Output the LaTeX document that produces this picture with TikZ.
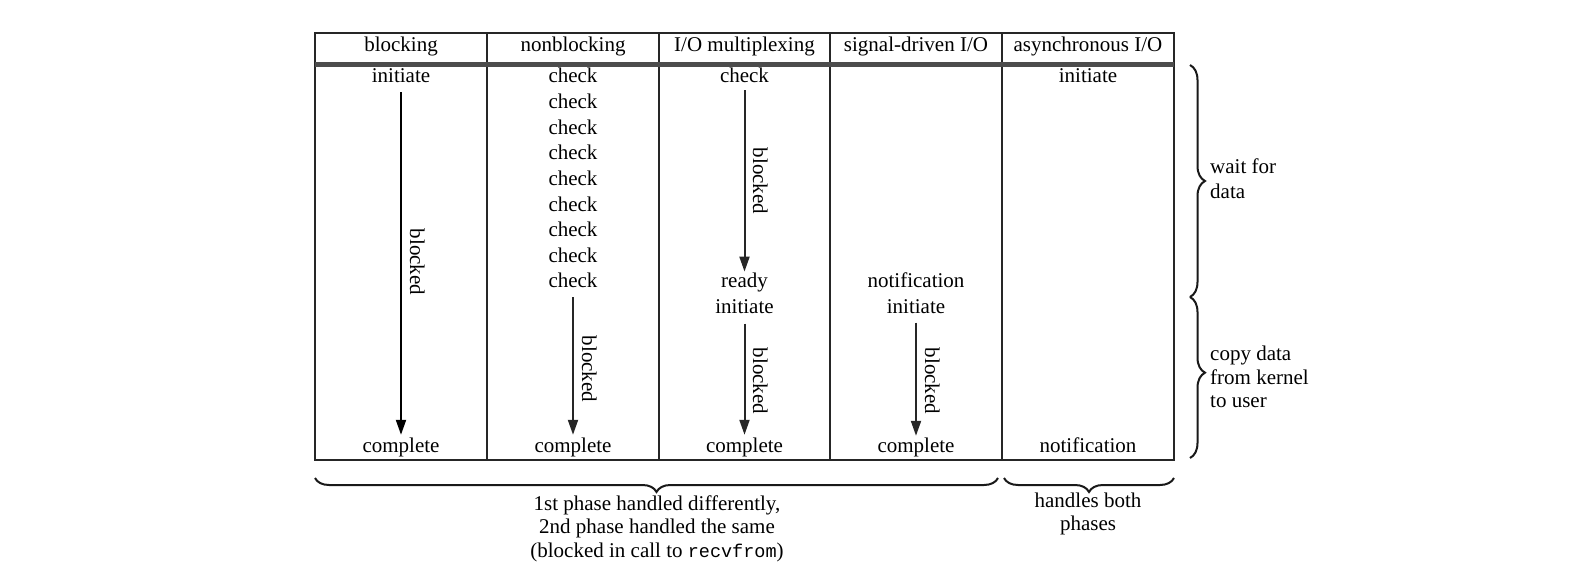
\documentclass[tikz,border=0pt]{standalone}
\usepackage{fontspec}
\setmainfont{Liberation Serif}
\setmonofont{Liberation Mono}
\usetikzlibrary{arrows.meta,decorations.pathreplacing}
\newcommand{\codefont}[1]{{\fontsize{18.5}{25}\selectfont\texttt{#1}}}
\begin{document}
\begin{tikzpicture}[x=1pt,y=-1pt,
  txt/.style={anchor=base,inner sep=0pt,text height=15pt,text depth=5pt,font=\fontsize{21}{25}\selectfont},
  lefttxt/.style={txt,anchor=base west},
  blk/.style={txt,anchor=center,rotate=-90},
  arr/.style={draw=black!85,line width=2pt,-{Triangle[length=15pt,width=10pt]}},
  tbl/.style={draw=black!85,line width=2.4pt},
  hrule/.style={draw=black!70,line width=4.5pt},
  brc/.style={draw=black!90,line width=2pt,decorate,decoration={brace,amplitude=15pt}},
  brcm/.style={draw=black!90,line width=2pt,decorate,decoration={brace,mirror,amplitude=14pt}}]
\useasboundingbox (0,0) rectangle (1588,586);
% table
\draw[tbl] (315,33) rectangle (1174,460);
\foreach \x in {487,659,830,1002} \draw[tbl] (\x,33) -- (\x,460);
\draw[hrule] (315,64.5) -- (1174,64.5);
% headers
\node[txt] (h1) at (401,52) {blocking};
\node[txt] (h2) at (573,52) {nonblocking};
\node[txt] (h3) at (744.5,52) {I/O multiplexing};
\node[txt] (h4) at (916,52) {signal-driven I/O};
\node[txt] (h5) at (1088,52) {asynchronous I/O};
% blocking
\node[txt] (binit) at (401,83) {initiate};
\node[txt] (bcomp) at (401,452) {complete};
\draw[arr,draw=black,shorten <=4pt,shorten >=2pt] (binit.south) -- (bcomp.north);
\node[blk] (bblk) at (415,262) {blocked};
% nonblocking
\foreach \k in {0,...,8} \node[txt] (n\k) at (573,{83+25.6*\k}) {check};
\node[txt] (ncomp) at (573,452) {complete};
\draw[arr,shorten <=4pt,shorten >=2pt] (n8.south) -- (ncomp.north);
\node[blk] (nblk) at (587,369) {blocked};
% I/O multiplexing
\node[txt] (mcheck) at (744.5,83) {check};
\node[txt] (mready) at (744.5,287.8) {ready};
\node[txt] (minit) at (744.5,313.4) {initiate};
\node[txt] (mcomp) at (744.5,452) {complete};
\draw[arr,shorten <=2pt,shorten >=1pt] (mcheck.south) -- (mready.north);
\draw[arr,shorten <=5pt,shorten >=2pt] (minit.south) -- (mcomp.north);
\node[blk] (mblk1) at (758,181) {blocked};
\node[blk] (mblk2) at (758,381) {blocked};
% signal-driven
\node[txt] (snot) at (916,287.8) {notification};
\node[txt] (sinit) at (916,313.4) {initiate};
\node[txt] (scomp) at (916,452) {complete};
\draw[arr,shorten <=4pt,shorten >=1pt] (sinit.south) -- (scomp.north);
\node[blk] (sblk) at (930,381) {blocked};
% asynchronous
\node[txt] (ainit) at (1088,83) {initiate};
\node[txt] (anot) at (1088,452) {notification};
% right braces
\coordinate (r1) at (1190,65);
\coordinate (r2) at (1190,297);
\coordinate (r3) at (1190,458);
\draw[brc] (r1) -- (r2);
\draw[brc,decoration={brace,amplitude=15pt,aspect=0.47}] (r2) -- (r3);
\node[lefttxt] (w1) at (1210,173) {wait for};
\node[lefttxt] (w2) at (1210,198) {data};
\node[lefttxt] (c1) at (1210,360) {copy data};
\node[lefttxt] (c2) at (1210,384) {from kernel};
\node[lefttxt] (c3) at (1210,407) {to user};
% bottom braces
\coordinate (b1) at (315,478);
\coordinate (b2) at (998,478);
\coordinate (b3) at (1004,478);
\coordinate (b4) at (1174,478);
\draw[brcm] (b1) -- (b2);
\draw[brcm] (b3) -- (b4);
\node[txt] (p1) at (657,510) {1st phase handled differently,};
\node[txt] (p2) at (657,533.5) {2nd phase handled the same};
\node[txt] (p3) at (657,557) {(blocked in call to \codefont{recvfrom})};
\node[txt] (hb1) at (1088,507) {handles both};
\node[txt] (hb2) at (1088,530) {phases};
\end{tikzpicture}
\end{document}
